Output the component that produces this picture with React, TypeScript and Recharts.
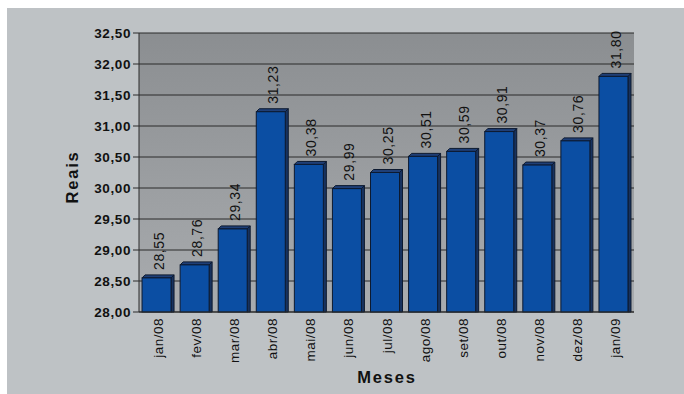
import React from 'react';
import { BarChart, Bar, XAxis, YAxis, CartesianGrid, LabelList } from 'recharts';

// Monthly average price (R$)
const months = ['jan/08', 'fev/08', 'mar/08', 'abr/08', 'mai/08', 'jun/08', 'jul/08', 'ago/08', 'set/08', 'out/08', 'nov/08', 'dez/08', 'jan/09'];
const prices = [28.55, 28.76, 29.34, 31.23, 30.38, 29.99, 30.25, 30.51, 30.59, 30.91, 30.37, 30.76, 31.8];
const yTicks = [28, 28.5, 29, 29.5, 30, 30.5, 31, 31.5, 32, 32.5];

const data = months.map((m, i) => ({ month: m, price: prices[i] }));

const FONT = '"Liberation Sans", Arial, sans-serif';
const fmt = (v: number) => v.toFixed(2).replace('.', ',');

const DEPTH = 3;
const PANEL_W = 677;
const PANEL_H = 386;
const PANEL_BG = '#bec2c5';

// Page canvas: white margin strip on the left and top, chart panel colour elsewhere
const pageCss = `html{background:linear-gradient(to right,#fff 7px,transparent 7px),linear-gradient(to bottom,#fff 8px,${PANEL_BG} 8px);min-height:100%;}body{background:transparent;}`;

// Bar with a shallow 3D top and right face
const Bar3D = (props: any) => {
  const { x, y, width, height } = props;
  if (width == null || height == null) return null;
  const w = width;
  const front = w - DEPTH;
  const b = y + height;
  return (
    <g>
      <polygon
        points={`${x + front},${y} ${x + w},${y - DEPTH} ${x + w},${b} ${x + front},${b}`}
        fill="#17325f"
        stroke="#0d1a30"
        strokeWidth={1}
      />
      <polygon
        points={`${x},${y} ${x + DEPTH},${y - DEPTH} ${x + w},${y - DEPTH} ${x + front},${y}`}
        fill="#1f3f77"
        stroke="#0d1a30"
        strokeWidth={1}
      />
      <rect x={x} y={y} width={front} height={height} fill="#0b4ea3" stroke="#0d1a30" strokeWidth={1} />
    </g>
  );
};

const ValueLabel = (props: any) => {
  const { x, y, width, value } = props;
  const cx = x + width / 2 + 6;
  const cy = y - 8;
  return (
    <text
      x={cx}
      y={cy}
      transform={`rotate(-90, ${cx}, ${cy})`}
      textAnchor="start"
      fontFamily={FONT}
      fontSize={14}
      letterSpacing={0.6}
      fill="#111"
    >
      {fmt(value)}
    </text>
  );
};

const MonthTick = (props: any) => {
  const { x, y, payload } = props;
  const tx = x + 5;
  const ty = y;
  return (
    <text
      x={tx}
      y={ty}
      transform={`rotate(-90, ${tx}, ${ty})`}
      textAnchor="end"
      fontFamily={FONT}
      fontSize={13.5}
      letterSpacing={0.5}
      fill="#111"
    >
      {payload.value}
    </text>
  );
};

const XTitle = () => (
  <text x={380} y={375} textAnchor="middle" fontFamily={FONT} fontSize={16.5} fontWeight="bold" letterSpacing={1.8} fill="#111">
    Meses
  </text>
);

const YTitle = () => (
  <text
    x={71}
    y={169}
    transform="rotate(-90, 71, 169)"
    textAnchor="middle"
    fontFamily={FONT}
    fontSize={16.5}
    fontWeight="bold"
    letterSpacing={1.8}
    fill="#111"
  >
    Reais
  </text>
);

export default function App() {
  return (
    <>
      <style>{pageCss}</style>
      <div style={{ position: 'fixed', left: 7, top: 8, width: 720, height: 420, background: PANEL_BG, overflow: 'hidden' }}>
        <BarChart
          width={PANEL_W}
          height={PANEL_H}
          data={data}
          margin={{ top: 25, right: 50, left: 0, bottom: 0 }}
          barCategoryGap="8%"
        >
          <defs>
            <linearGradient id="plotBg" x1="0" y1="0" x2="0" y2="1">
              <stop offset="0%" stopColor="#8b8e91" />
              <stop offset="100%" stopColor="#a9acaf" />
            </linearGradient>
          </defs>
          <CartesianGrid vertical={false} stroke="#2b2b2b" fill="url(#plotBg)" fillOpacity={1} />
          <XAxis
            dataKey="month"
            height={82}
            interval={0}
            tickLine={false}
            tickSize={0}
            tickMargin={6}
            axisLine={{ stroke: '#2b2b2b' }}
            tick={<MonthTick />}
            label={<XTitle />}
          />
          <YAxis
            width={132}
            domain={[28, 32.5]}
            ticks={yTicks}
            interval={0}
            tickFormatter={fmt}
            tickSize={6}
            tickMargin={2}
            tickLine={{ stroke: '#2b2b2b' }}
            axisLine={{ stroke: '#2b2b2b' }}
            tick={{ fontFamily: FONT, fontSize: 13.5, fontWeight: 'bold', letterSpacing: 0.6, fill: '#111' }}
            label={<YTitle />}
          />
          <Bar dataKey="price" shape={<Bar3D />} isAnimationActive={false}>
            <LabelList dataKey="price" content={<ValueLabel />} />
          </Bar>
        </BarChart>
      </div>
    </>
  );
}
